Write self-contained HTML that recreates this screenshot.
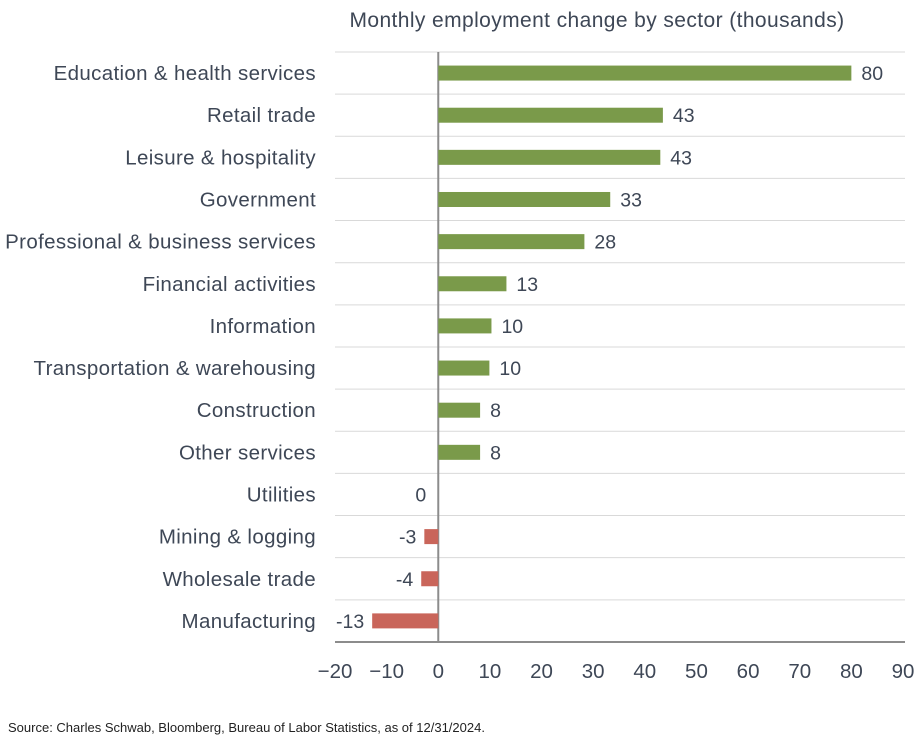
<!DOCTYPE html>
<html><head><meta charset="utf-8"><style>
body{margin:0;background:#fff;}
svg text{font-family:"Liberation Sans",sans-serif;fill:#3e4756;}
</style></head><body>
<svg id="chart" width="921" height="743">
<text x="597" y="27" font-size="21" letter-spacing="0.4" text-anchor="middle">Monthly employment change by sector (thousands)</text>
<g id="grid"></g><g id="bars"></g><g id="labels"></g><g id="ticks"></g>
<text x="8" y="732" font-size="13" style="fill:#222">Source: Charles Schwab, Bloomberg, Bureau of Labor Statistics, as of 12/31/2024.</text>
</svg>
<script>
const categories=["Education & health services","Retail trade","Leisure & hospitality","Government","Professional & business services","Financial activities","Information","Transportation & warehousing","Construction","Other services","Utilities","Mining & logging","Wholesale trade","Manufacturing"];
const values=[80,43.5,43,33.3,28.3,13.2,10.3,9.9,8.1,8.1,0,-2.7,-3.3,-12.8];
const valueLabels=["80","43","43","33","28","13","10","10","8","8","0","-3","-4","-13"];
const xTicks=[-20,-10,0,10,20,30,40,50,60,70,80,90];
const NS="http://www.w3.org/2000/svg";
const x0=335,x1=903,dMin=-20,dMax=90,topY=52,rowH=42.14;
const X=v=>x0+(v-dMin)/(dMax-dMin)*(x1-x0);
const Y=i=>topY+i*rowH;
function mk(t,a,p){const e=document.createElementNS(NS,t);for(const k in a)e.setAttribute(k,a[k]);p.appendChild(e);return e;}
const g=document.getElementById('grid'),b=document.getElementById('bars'),l=document.getElementById('labels'),tk=document.getElementById('ticks');
for(let i=0;i<categories.length;i++){
 const ln=mk('line',{x1:x0,x2:905,y1:Y(i),y2:Y(i),stroke:'#d9d9d9','stroke-width':1},g);
 
 
}
const ax=mk('line',{x1:x0,x2:905,y1:Y(14),y2:Y(14),stroke:'#8c8c8c','stroke-width':2},g);


categories.forEach((c,i)=>{
 const v=values[i],cy=Y(i)+rowH/2;
 const xa=Math.min(X(0),X(v)),w=Math.abs(X(v)-X(0));
 const r=mk('rect',{x:xa,y:cy-7.5,width:w,height:15,fill:v>=0?'#7a9a4a':'#c9655a'},b);
 
 
 const t=mk('text',{x:316,y:cy+7,'font-size':20.5,'letter-spacing':0.35,'text-anchor':'end'},l);t.textContent=c;
 
 
 const vt=mk('text',{x:v>=0?X(v)+10:X(v)-8,y:cy+7,'font-size':19.5,'text-anchor':v>=0?'start':'end'},l);
 if(v===0){vt.setAttribute('x',X(0)-12);vt.setAttribute('text-anchor','end');}
 vt.textContent=valueLabels[i];
 
 
});
const zl=mk('line',{x1:X(0),x2:X(0),y1:topY,y2:Y(14),stroke:'#8c8c8c','stroke-width':2},g);


xTicks.forEach(v=>{
 const t=mk('text',{x:X(v),y:678,'font-size':20.5,'text-anchor':'middle'},tk);t.textContent=v<0?'\u2212'+(-v):v;
 
 
});
</script>
</body></html>
